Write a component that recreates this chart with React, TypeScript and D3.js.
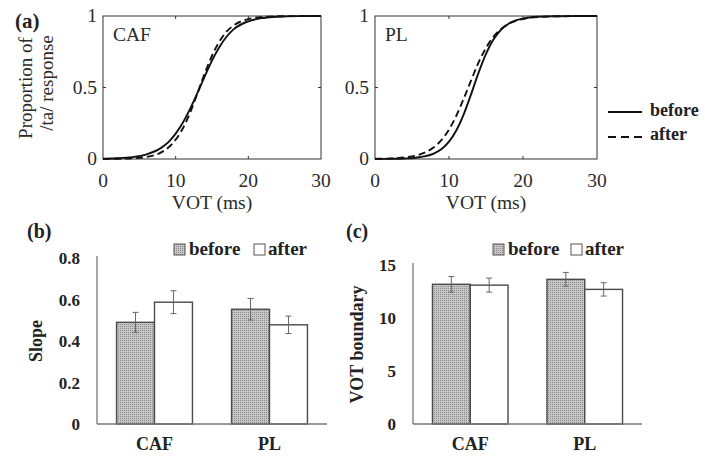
import React from "react";
import * as d3 from "d3";

// ---------- Data ----------
const vot = [0, 2, 4, 6, 8, 9, 10, 11, 12, 13, 14, 15, 16, 17, 18, 20, 22, 24, 27, 30];
const cafBefore = [0.002, 0.005, 0.013, 0.033, 0.078, 0.118, 0.177, 0.255, 0.352, 0.463, 0.578, 0.688, 0.782, 0.855, 0.908, 0.963, 0.986, 0.995, 0.999, 1.0];
const cafAfter = [0.0005, 0.0014, 0.0045, 0.014, 0.046, 0.08, 0.135, 0.215, 0.325, 0.46, 0.598, 0.722, 0.82, 0.89, 0.935, 0.978, 0.993, 0.998, 0.9995, 1.0];
const plBefore = [0.0003, 0.0011, 0.0038, 0.0124, 0.04, 0.07, 0.121, 0.201, 0.314, 0.455, 0.604, 0.735, 0.835, 0.902, 0.944, 0.982, 0.995, 0.998, 0.9995, 1.0];
const plAfter = [0.0014, 0.004, 0.011, 0.031, 0.084, 0.133, 0.206, 0.304, 0.423, 0.552, 0.675, 0.777, 0.854, 0.908, 0.943, 0.979, 0.993, 0.997, 0.9995, 1.0];

const xTicksA = [0, 10, 20, 30];
const yTicksA = [0, 0.5, 1];

const groups = ["CAF", "PL"];
const conditions = ["before", "after"];

const slopeBefore = [0.49, 0.553];
const slopeAfter = [0.587, 0.478];
const slopeErrBefore = [0.048, 0.052];
const slopeErrAfter = [0.055, 0.042];
const slopeTicks = [0, 0.2, 0.4, 0.6, 0.8];

const boundBefore = [13.18, 13.65];
const boundAfter = [13.1, 12.7];
const boundErrBefore = [0.74, 0.65];
const boundErrAfter = [0.66, 0.63];
const boundTicks = [0, 5, 10, 15];

const SERIF = "'Liberation Serif', 'Times New Roman', Times, serif";

type CurveProps = {
  x0: number; x1: number; y0: number; y1: number;
  label: string; before: number[]; after: number[];
};

function CurvePanel({ x0, x1, y0, y1, label, before, after }: CurveProps) {
  const xs = d3.scaleLinear().domain([0, 30]).range([x0, x1]);
  const ys = d3.scaleLinear().domain([0, 1]).range([y1, y0]);
  const line = (vals: number[]) =>
    d3.line<number>()
      .x((_, i) => xs(vot[i]))
      .y((d) => ys(d))
      .curve(d3.curveMonotoneX)(vals) || "";
  return (
    <g fontFamily={SERIF}>
      <rect x={x0} y={y0} width={x1 - x0} height={y1 - y0} fill="white" stroke="#333" strokeWidth={1} />
      {xTicksA.slice(1, -1).map((t) => (
        <g key={"xt" + t}>
          <line x1={xs(t)} x2={xs(t)} y1={y1} y2={y1 - 3} stroke="#333" />
          <line x1={xs(t)} x2={xs(t)} y1={y0} y2={y0 + 3} stroke="#333" />
        </g>
      ))}
      {yTicksA.slice(1, -1).map((t) => (
        <g key={"yt" + t}>
          <line x1={x0} x2={x0 + 3} y1={ys(t)} y2={ys(t)} stroke="#333" />
          <line x1={x1} x2={x1 - 3} y1={ys(t)} y2={ys(t)} stroke="#333" />
        </g>
      ))}
      {xTicksA.map((t) => (
        <text key={"xl" + t} x={xs(t)} y={y1 + 28} fontSize={19.5} textAnchor="middle" fill="#2a2a2a">{t}</text>
      ))}
      {yTicksA.map((t) => (
        <text key={"yl" + t} x={x0 - 6} y={ys(t) + 6} fontSize={19.5} textAnchor="end" fill="#2a2a2a">{t}</text>
      ))}
      <path d={line(before)} fill="none" stroke="#111" strokeWidth={1.9} />
      <path d={line(after)} fill="none" stroke="#111" strokeWidth={1.9} strokeDasharray="7,4" />
      <text x={x0 + 10} y={y0 + 25} fontSize={19.5} fill="#2a2a2a">{label}</text>
      <text x={(x0 + x1) / 2} y={y1 + 50} fontSize={19.5} textAnchor="middle" fill="#2a2a2a">VOT (ms)</text>
    </g>
  );
}

type BarProps = {
  x0: number; x1: number; y0: number; yTop: number;
  max: number; ticks: number[];
  before: number[]; after: number[]; errB: number[]; errA: number[];
  title: string; titleX: number; tickFmt: (v: number) => string;
  legendX: number; afterLegendX: number;
  panelLabel: string; panelX: number;
};

function BarPanel(p: BarProps) {
  const ys = d3.scaleLinear().domain([0, p.max]).range([p.y0, p.yTop]);
  const xb = d3.scaleBand<string>().domain(groups).range([p.x0, p.x1]).paddingInner(0.34).paddingOuter(0.17);
  const xc = d3.scaleBand<string>().domain(conditions).range([0, xb.bandwidth()]);
  const vals: Record<string, number[]> = { before: p.before, after: p.after };
  const errs: Record<string, number[]> = { before: p.errB, after: p.errA };
  return (
    <g fontFamily={SERIF} fontWeight="bold" fill="#222">
      <text x={p.panelX} y={238} fontSize={20}>{p.panelLabel}</text>
      {groups.map((g, gi) =>
        conditions.map((c) => {
          const x = (xb(g) as number) + (xc(c) as number);
          const v = vals[c][gi];
          const e = errs[c][gi];
          const cx = x + xc.bandwidth() / 2;
          return (
            <g key={g + c}>
              <rect x={x} y={ys(v)} width={xc.bandwidth()} height={p.y0 - ys(v)}
                fill={c === "before" ? "url(#dots)" : "white"} stroke="#4a4a4a" strokeWidth={1.4} />
              <line x1={cx} x2={cx} y1={ys(v + e)} y2={ys(v - e)} stroke="#666" strokeWidth={1} />
              <line x1={cx - 3} x2={cx + 3} y1={ys(v + e)} y2={ys(v + e)} stroke="#666" strokeWidth={1} />
              <line x1={cx - 3} x2={cx + 3} y1={ys(v - e)} y2={ys(v - e)} stroke="#666" strokeWidth={1} />
            </g>
          );
        })
      )}
      <line x1={p.x0} x2={p.x0} y1={p.y0} y2={p.yTop - 2} stroke="#777" strokeWidth={1.3} />
      <line x1={p.x0} x2={p.x1} y1={p.y0} y2={p.y0} stroke="#777" strokeWidth={1.3} />
      {p.ticks.map((t) => (
        <text key={"t" + t} x={p.x0 - 17} y={ys(t) + 6} fontSize={17} textAnchor="end">{p.tickFmt(t)}</text>
      ))}
      {groups.map((g) => (
        <text key={"g" + g} x={(xb(g) as number) + xb.bandwidth() / 2} y={450} fontSize={18} textAnchor="middle">{g}</text>
      ))}
      <text transform={`translate(${p.titleX},${(p.y0 + p.yTop) / 2}) rotate(-90)`} fontSize={18} textAnchor="middle">{p.title}</text>
      <rect x={p.legendX} y={244} width={11} height={11} fill="url(#dots)" stroke="#555" strokeWidth={1} />
      <text x={p.legendX + 15} y={255} fontSize={19}>before</text>
      <rect x={p.afterLegendX} y={244} width={11} height={11} fill="white" stroke="#555" strokeWidth={1} />
      <text x={p.afterLegendX + 14} y={255} fontSize={19}>after</text>
    </g>
  );
}

export default function App() {
  return (
    <svg width={705} height={456} style={{ position: "absolute", left: 0, top: 0, background: "white" }}>
      <defs>
        <pattern id="dots" width={2} height={2} patternUnits="userSpaceOnUse">
          <rect width={2} height={2} fill="#c6c6c6" />
          <rect width={1} height={1} fill="#8c8c8c" />
        </pattern>
      </defs>
      <rect width={705} height={456} fill="white" />
      <text x={15} y={28} fontSize={21} fontWeight="bold" fontFamily={SERIF} fill="#222">(a)</text>
      <g fontFamily={SERIF} fontSize={19} fill="#2a2a2a">
        <text transform="translate(32,88) rotate(-90)" textAnchor="middle">Proportion of</text>
        <text transform="translate(53,83) rotate(-90)" textAnchor="middle">/ta/ response</text>
      </g>
      <CurvePanel x0={103} x1={321} y0={16} y1={159} label="CAF" before={cafBefore} after={cafAfter} />
      <CurvePanel x0={375} x1={597} y0={16} y1={159} label="PL" before={plBefore} after={plAfter} />
      <g fontFamily={SERIF} fontWeight="bold" fontSize={18} fill="#222">
        <line x1={608} x2={642} y1={112} y2={112} stroke="#111" strokeWidth={2} />
        <text x={650} y={116}>before</text>
        <line x1={608} x2={642} y1={137} y2={137} stroke="#111" strokeWidth={2} strokeDasharray="8,5" />
        <text x={650} y={140}>after</text>
      </g>
      <BarPanel x0={97} x1={327} y0={424} yTop={258} max={0.8} ticks={slopeTicks}
        before={slopeBefore} after={slopeAfter} errB={slopeErrBefore} errA={slopeErrAfter}
        title="Slope" titleX={42} tickFmt={(v) => (v === 0 ? "0" : d3.format(".1f")(v))}
        legendX={174} afterLegendX={254} panelLabel="(b)" panelX={27} />
      <BarPanel x0={413} x1={642} y0={424} yTop={265} max={15} ticks={boundTicks}
        before={boundBefore} after={boundAfter} errB={boundErrBefore} errA={boundErrAfter}
        title="VOT boundary" titleX={363} tickFmt={(v) => String(v)}
        legendX={493} afterLegendX={571} panelLabel="(c)" panelX={346} />
    </svg>
  );
}
